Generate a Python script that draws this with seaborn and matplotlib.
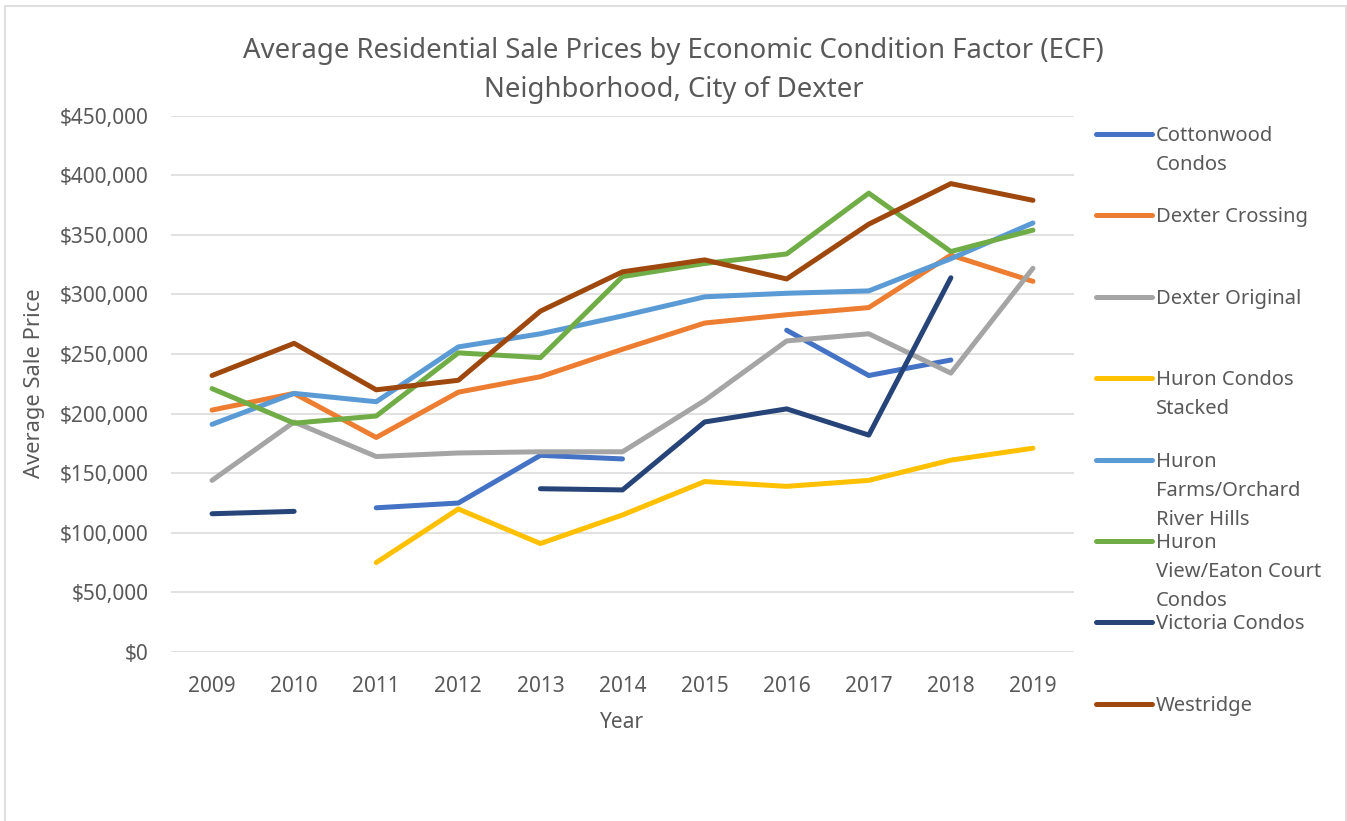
import matplotlib
matplotlib.use('Agg')
import matplotlib.pyplot as plt
import matplotlib.ticker as mticker
from matplotlib.lines import Line2D
import seaborn as sns
import pandas as pd
import numpy as np

sns.set_theme(style='white')
plt.rcParams['font.family'] = ['Noto Sans', 'DejaVu Sans']

# 数据：各ECF社区年均销售价格（缺失年份为 NaN）
years = [2009, 2010, 2011, 2012, 2013, 2014, 2015, 2016, 2017, 2018, 2019]
nan = np.nan
cottonwood = [nan, nan, 121000, 125000, 165000, 162000, nan, 270000, 232000, 245000, nan]
dexter_crossing = [203000, 217000, 180000, 218000, 231000, 254000, 276000, 283000, 289000, 333000, 311000]
dexter_original = [144000, 193000, 164000, 167000, 168000, 168000, 211000, 261000, 267000, 234000, 322000]
huron_condos = [nan, nan, 75000, 120000, 91000, 115000, 143000, 139000, 144000, 161000, 171000]
huron_farms = [191000, 217000, 210000, 256000, 267000, 282000, 298000, 301000, 303000, 330000, 360000]
huron_view = [221000, 192000, 198000, 251000, 247000, 315000, 326000, 334000, 385000, 336000, 354000]
victoria = [116000, 118000, nan, nan, 137000, 136000, 193000, 204000, 182000, 314000, nan]
westridge = [232000, 259000, 220000, 228000, 286000, 319000, 329000, 313000, 359000, 393000, 379000]

series_names = ['Cottonwood Condos', 'Dexter Crossing', 'Dexter Original', 'Huron Condos Stacked',
                'Huron Farms/Orchard River Hills', 'Huron View/Eaton Court Condos',
                'Victoria Condos', 'Westridge']
legend_labels = ['Cottonwood\nCondos', 'Dexter Crossing', 'Dexter Original', 'Huron Condos\nStacked',
                 'Huron\nFarms/Orchard\nRiver Hills', 'Huron\nView/Eaton Court\nCondos',
                 'Victoria Condos', 'Westridge']
series_values = [cottonwood, dexter_crossing, dexter_original, huron_condos,
                 huron_farms, huron_view, victoria, westridge]
colors = ['#4472C4', '#ED7D31', '#A5A5A5', '#FFC000', '#5B9BD5', '#70AD47', '#264478', '#9E480E']
title_lines = ['Average Residential Sale Prices by Economic Condition Factor (ECF)',
               'Neighborhood, City of Dexter']

# 转成长表，按缺失值切分连续段（保留断线效果）
frames = []
for name, vals in zip(series_names, series_values):
    s = pd.Series(vals, dtype=float)
    seg = s.isna().cumsum()
    df = pd.DataFrame({'year': years, 'price': s, 'series': name, 'segment': seg})
    frames.append(df.dropna(subset=['price']))
data = pd.concat(frames, ignore_index=True)
data['unit'] = data['series'] + '_' + data['segment'].astype(str)

W, H = 1347, 821
fig = plt.figure(figsize=(W / 100, H / 100), dpi=100)
text_color = '#595959'

ax = fig.add_axes([171 / W, 1 - 652 / H, (1074 - 171) / W, (652 - 115.7) / H])
sns.lineplot(data=data, x='year', y='price', hue='series', units='unit', estimator=None,
             hue_order=series_names, palette=colors, linewidth=3.6, legend=False, ax=ax,
             solid_capstyle='round', solid_joinstyle='round')

ax.set_xlim(2008.5, 2019.5)
ax.set_ylim(0, 450000)
ax.set_xticks(years)
ax.set_xticklabels([str(y) for y in years])
ax.yaxis.set_major_locator(mticker.MultipleLocator(50000))
ax.yaxis.set_major_formatter(mticker.StrMethodFormatter('${x:,.0f}'))
ax.grid(axis='y', color='#D9D9D9', linewidth=1.1)
ax.grid(axis='x', visible=False)
ax.set_axisbelow(True)
for sp in ax.spines.values():
    sp.set_visible(False)
ax.tick_params(axis='both', length=0, labelsize=15, colors=text_color)
ax.tick_params(axis='y', pad=16)
ax.tick_params(axis='x', pad=17.5)

ax.set_xlabel('Year', fontsize=15, color=text_color, va='center')
ax.xaxis.set_label_coords(0.5, (652 - 722) / (652 - 115.7))
ax.set_ylabel('Average Sale Price', fontsize=15.8, color=text_color, va='center')
ax.yaxis.set_label_coords((35 - 171) / (1074 - 171), (652 - 383) / (652 - 115.7))

# 标题两行分开放置，控制行距
for k, line in enumerate(title_lines):
    fig.text(0.5, 1 - (51 + 39 * k) / H, line, ha='center', va='center',
             fontsize=19.8, color=text_color, fontweight='light')

# 手动图例（与Excel一样固定行距，文字逐行放置）
for i, (lab, col) in enumerate(zip(legend_labels, colors)):
    y = 134 + 81.4 * i
    fig.add_artist(Line2D([1096 / W, 1152 / W], [1 - y / H, 1 - y / H], color=col,
                          linewidth=3.6, solid_capstyle='round', transform=fig.transFigure))
    for j, part in enumerate(lab.split('\n')):
        fig.text(1156 / W, 1 - (y + 7 + 29 * j) / H, part, ha='left', va='baseline',
                 fontsize=14.5, color=text_color)

# 图表外框
fig.add_artist(plt.Rectangle((5 / W, -0.01), (1346 - 5) / W, 1 - 6 / H + 0.01, fill=False,
                             edgecolor='#D9D9D9', linewidth=1.2, transform=fig.transFigure))

fig.savefig('out.png', dpi=100)
